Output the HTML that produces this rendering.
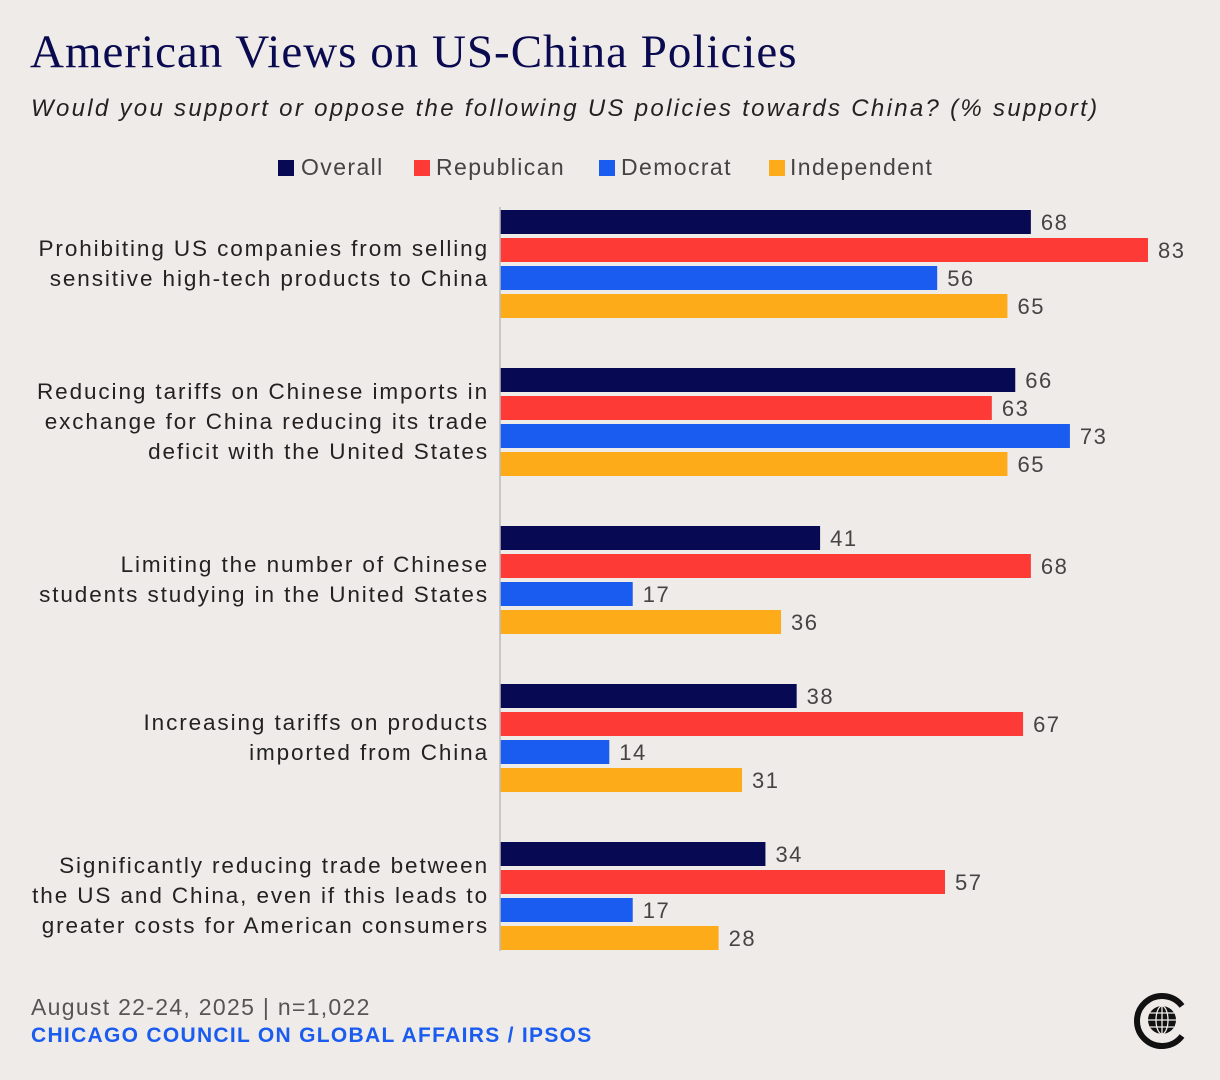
<!DOCTYPE html>
<html><head><meta charset="utf-8"><style>
body{margin:0;width:1220px;height:1080px;background:#efebe8;font-family:"Liberation Sans",sans-serif;position:relative;overflow:hidden;color:#333}
.t{position:absolute;white-space:nowrap}
.lg{position:absolute;top:154px;font-size:23px;color:#444;letter-spacing:1.4px;white-space:nowrap;line-height:27px}
.sq{position:absolute;top:160px;width:16px;height:16px}
</style></head><body>
<div class="t" style="left:30px;top:25px;font-family:'Liberation Serif',serif;font-size:47px;color:#0a0a50;letter-spacing:1px">American Views on US-China Policies</div>
<div class="t" style="left:31px;top:95px;font-size:24px;font-style:italic;color:#222;letter-spacing:2.3px">Would you support or oppose the following US policies towards China? (% support)</div>
<div>
<div class="sq" style="left:278px;background:#070a52"></div>
<div class="lg" style="left:301px">Overall</div>
<div class="sq" style="left:414px;background:#fd3a36"></div>
<div class="lg" style="left:436px">Republican</div>
<div class="sq" style="left:599px;background:#1a5cf0"></div>
<div class="lg" style="left:621px">Democrat</div>
<div class="sq" style="left:769px;background:#fdab18"></div>
<div class="lg" style="left:790px">Independent</div>
</div>
<svg id="chart" width="1220" height="1080" style="position:absolute;left:0;top:0"></svg>
<div class="t" style="left:31px;top:994px;font-size:23px;color:#555;letter-spacing:1.3px">August 22-24, 2025 | n=1,022</div>
<div class="t" style="left:31px;top:1024px;font-size:21px;font-weight:bold;color:#1a5cf0;letter-spacing:1.3px">CHICAGO COUNCIL ON GLOBAL AFFAIRS / IPSOS</div>
<svg width="90" height="80" style="position:absolute;left:1120px;top:980px">
<path d="M62,26 A25,25 0 1 0 62,56" fill="none" stroke="#111" stroke-width="6"/>
<circle cx="42" cy="40" r="14" fill="#111"/>
<g stroke="#efebe8" stroke-width="1.3" fill="none"><ellipse cx="42" cy="40" rx="6" ry="14"/><line x1="28" y1="40" x2="56" y2="40"/><line x1="30" y1="33" x2="54" y2="33"/><line x1="30" y1="47" x2="54" y2="47"/><line x1="42" y1="26" x2="42" y2="54"/></g>
</svg>
<script>
const categories=[["Prohibiting US companies from selling","sensitive high-tech products to China"],["Reducing tariffs on Chinese imports in","exchange for China reducing its trade","deficit with the United States"],["Limiting the number of Chinese","students studying in the United States"],["Increasing tariffs on products","imported from China"],["Significantly reducing trade between","the US and China, even if this leads to","greater costs for American consumers"]];
const seriesNames=["overall","republican","democrat","independent"];
const overall=[68,66,41,38,34];
const republican=[83,63,68,67,57];
const democrat=[56,73,17,14,17];
const independent=[65,65,36,31,28];
const colors=["#070a52","#fd3a36","#1a5cf0","#fdab18"];
const svg=document.getElementById('chart');const NS="http://www.w3.org/2000/svg";
const x0=500,k=7.807;const xs=v=>x0+v*k;
const groupTop=i=>210+i*158;
const series=[overall,republican,democrat,independent];
function mk(t,a){const e=document.createElementNS(NS,t);for(const q in a)e.setAttribute(q,a[q]);svg.appendChild(e);return e;}
categories.forEach((lines,i)=>{
 const gt=groupTop(i);
 series.forEach((s,j)=>{
  const y=gt+j*28;
  const r=mk('rect',{x:x0,y:y,width:xs(s[i])-x0,height:24,fill:colors[j]});
  
  
  const t=mk('text',{x:xs(s[i])+10,y:y+20,'font-size':22,fill:'#444','letter-spacing':'1.5px','font-family':'Liberation Sans, sans-serif'});
  t.textContent=s[i];
  
  
 });
 const mid=gt+54;const n=lines.length;
 lines.forEach((ln,l)=>{
  const t=mk('text',{x:489,y:mid+(l-(n-1)/2)*30+7,'font-size':22.5,fill:'#222','text-anchor':'end','letter-spacing':'1.9px','font-family':'Liberation Sans, sans-serif'});
  t.textContent=ln;
  
  
 });
});
const ax=mk('line',{x1:x0,x2:x0,y1:207,y2:951,stroke:'#bbb','stroke-width':1.5});


</script>
</body></html>
